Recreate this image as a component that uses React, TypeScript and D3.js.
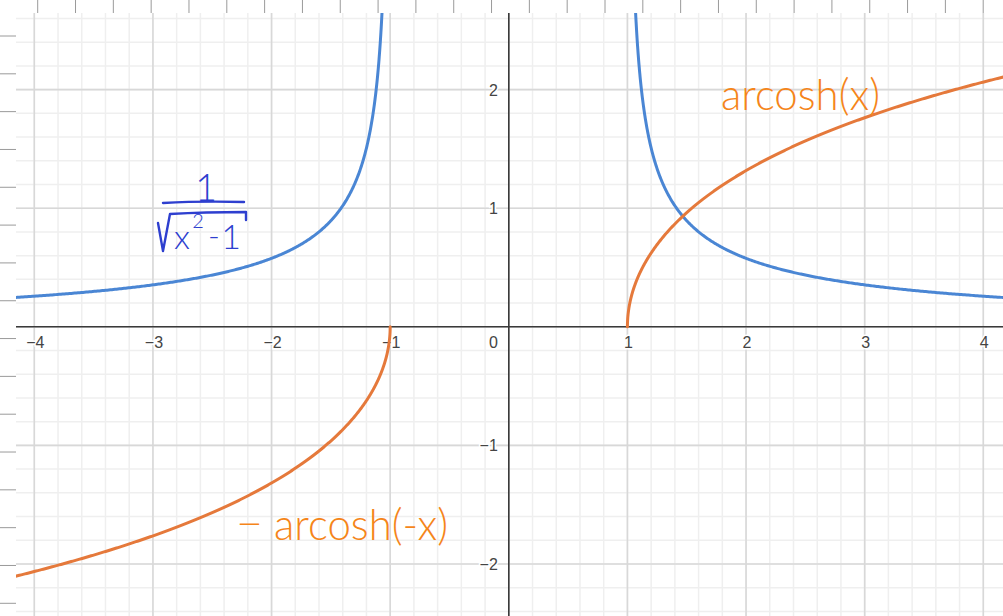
import React from "react";
import * as d3 from "d3";

// Plotted functions and their sampling domains
const xTicks = [-4, -3, -2, -1, 1, 2, 3, 4];
const yTicks = [-2, -1, 1, 2];
const tickLabels = ["−4", "−3", "−2", "−1", "1", "2", "3", "4"];
const yTickLabels = ["−2", "−1", "1", "2"];

const invSqrt = (x: number) => 1 / Math.sqrt(x * x - 1);
const arcosh = (x: number) => Math.log(x + Math.sqrt(x * x - 1));
const negArcoshNeg = (x: number) => -arcosh(-x);

const W = 1003;
const H = 616;
const PLOT = { left: 16, top: 13, right: 1003, bottom: 616 };

const x = d3.scaleLinear().domain([-4, 4]).range([34.3, 983.3]);
const y = d3.scaleLinear().domain([-2, 2]).range([564.0, 89.6]);

const BLUE = "#4a86d4";
const ORANGE = "#e5793b";
const INK_BLUE = "#2e3fcf";
const INK_ORANGE = "#f5851a";

// dense sample helper: clusters points near the asymptote at |x| = 1
function sample(a: number, b: number, n: number) {
  return d3.range(n + 1).map((i) => {
    const t = i / n;
    return a + (b - a) * t * t * t;
  });
}

const xmin = x.invert(PLOT.left);
const xmax = x.invert(PLOT.right);
const ymin = y.invert(PLOT.bottom);
const ymax = y.invert(PLOT.top);

const line = d3
  .line<[number, number]>()
  .x((d) => x(d[0]))
  .y((d) => y(Math.max(-50, Math.min(50, d[1]))));

const blueRight = sample(1.0000001, xmax + 0.1, 600).map((v) => [v, invSqrt(v)] as [number, number]);
const blueLeft = sample(-1.0000001, xmin - 0.1, 600).map((v) => [v, invSqrt(v)] as [number, number]);
const orangeRight = sample(1, xmax + 0.1, 600).map((v) => [v, arcosh(v)] as [number, number]);
const orangeLeft = sample(-1, xmin - 0.1, 600).map((v) => [v, negArcoshNeg(v)] as [number, number]);

const minorX = d3.range(Math.ceil(xmin * 5), Math.floor(xmax * 5) + 1).map((k) => k / 5);
const minorY = d3.range(Math.ceil(ymin * 5), Math.floor(ymax * 5) + 1).map((k) => k / 5);
const majorX = d3.range(Math.ceil(xmin), Math.floor(xmax) + 1);
const majorY = d3.range(Math.ceil(ymin), Math.floor(ymax) + 1);

const rulerTop = d3.range(0, 26).map((k) => 37.7 + 37.82 * k);
const rulerLeft = d3.range(0, 16).map((k) => 36 + 37.82 * k);

export default function App() {
  const labelStyle = {
    fontFamily: "'Liberation Sans', Arial, sans-serif",
    fontSize: 16,
    fill: "#444",
    stroke: "#fff",
    strokeWidth: 3,
    paintOrder: "stroke" as const,
  };
  const hand = {
    fontFamily: "Lato, 'Open Sans', sans-serif",
    fontWeight: 300,
  };
  return (
    <svg
      width={W}
      height={H}
      viewBox={`0 0 ${W} ${H}`}
      style={{ position: "absolute", left: 0, top: 0, display: "block", background: "#fff" }}
    >
      <defs>
        <clipPath id="plot">
          <rect x={PLOT.left} y={PLOT.top} width={PLOT.right - PLOT.left} height={PLOT.bottom - PLOT.top} />
        </clipPath>
      </defs>

      {/* ruler marks along the top and left margins */}
      <g stroke="#9a9a9a" strokeWidth={1}>
        {rulerTop.map((px, i) => (
          <line key={`rt${i}`} x1={px} x2={px} y1={0} y2={PLOT.top} />
        ))}
        {rulerLeft.map((py, i) => (
          <line key={`rl${i}`} x1={0} x2={PLOT.left} y1={py} y2={py} />
        ))}
      </g>

      <g clipPath="url(#plot)">
        {/* minor grid */}
        <g stroke="#efefef" strokeWidth={1.5}>
          {minorX.map((v, i) => (
            <line key={`mx${i}`} x1={x(v)} x2={x(v)} y1={PLOT.top} y2={PLOT.bottom} />
          ))}
          {minorY.map((v, i) => (
            <line key={`my${i}`} y1={y(v)} y2={y(v)} x1={PLOT.left} x2={PLOT.right} />
          ))}
        </g>
        {/* major grid */}
        <g stroke="#d8d8d8" strokeWidth={1.6}>
          {majorX.map((v, i) => (
            <line key={`Mx${i}`} x1={x(v)} x2={x(v)} y1={PLOT.top} y2={PLOT.bottom} />
          ))}
          {majorY.map((v, i) => (
            <line key={`My${i}`} y1={y(v)} y2={y(v)} x1={PLOT.left} x2={PLOT.right} />
          ))}
        </g>
        {/* axes */}
        <g stroke="#3a3a3a" strokeWidth={1.6}>
          <line x1={PLOT.left} x2={PLOT.right} y1={y(0)} y2={y(0)} />
          <line x1={x(0)} x2={x(0)} y1={PLOT.top} y2={PLOT.bottom} />
        </g>

        {/* tick labels */}
        <g {...labelStyle} textAnchor="middle">
          {xTicks.map((v, i) => (
            <text key={`xt${i}`} x={x(v) + 1} y={y(0) + 21}>
              {tickLabels[i]}
            </text>
          ))}
        </g>
        <g {...labelStyle} textAnchor="end">
          <text x={x(0) - 11} y={y(0) + 21}>0</text>
          {yTicks.map((v, i) => (
            <text key={`yt${i}`} x={x(0) - 11} y={y(v) + 6}>
              {yTickLabels[i]}
            </text>
          ))}
        </g>

        {/* curves */}
        <g fill="none" strokeWidth={3} strokeLinejoin="round" strokeLinecap="round">
          <path d={line(blueRight) || ""} stroke={BLUE} />
          <path d={line(blueLeft) || ""} stroke={BLUE} />
          <path d={line(orangeRight) || ""} stroke={ORANGE} />
          <path d={line(orangeLeft) || ""} stroke={ORANGE} />
        </g>
      </g>

      {/* handwritten annotations */}
      <g fill={INK_ORANGE} {...hand}>
        <text x={721} y={110} fontSize={44} textLength={159} lengthAdjust="spacingAndGlyphs">
          arcosh(x)
        </text>
        <text x={236} y={539} fontSize={44} textLength={27} lengthAdjust="spacingAndGlyphs">
          −
        </text>
        <text x={274} y={540} fontSize={44} textLength={174} lengthAdjust="spacingAndGlyphs">
          arcosh(-x)
        </text>
      </g>
      <g fill={INK_BLUE} {...hand}>
        <text x={206} y={201} fontSize={38} textAnchor="middle">1</text>
        <text x={182} y={249} fontSize={34} textAnchor="middle">x</text>
        <text x={198} y={228} fontSize={20} textAnchor="middle">2</text>
        <text x={214} y={247} fontSize={32} textAnchor="middle">-</text>
        <text x={231} y={249} fontSize={34} textAnchor="middle">1</text>
      </g>
      <g fill="none" stroke={INK_BLUE} strokeWidth={2.4} strokeLinecap="round" strokeLinejoin="round">
        <path d="M163,203 Q200,201 244,202" />
        <path d="M158,223 L163,251 L170,214 Q205,212 246,212 L246,220" />
      </g>
    </svg>
  );
}
